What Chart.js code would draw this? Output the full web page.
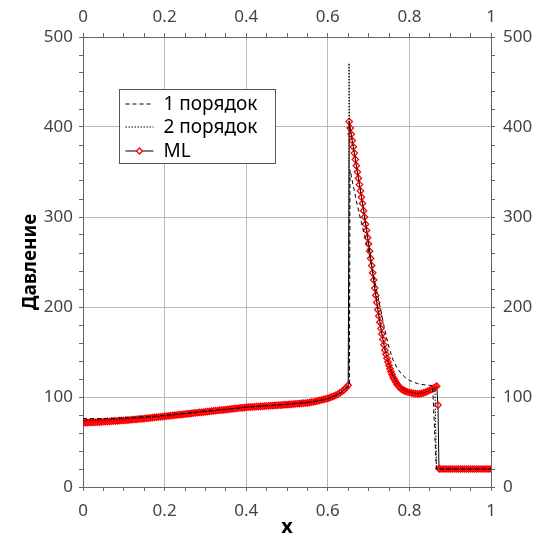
<!DOCTYPE html>
<html>
<head>
<meta charset="utf-8">
<script src="https://cdn.jsdelivr.net/npm/chart.js@4.4.1/dist/chart.umd.min.js"></script>
<style>
  html, body { margin: 0; padding: 0; background: #fff; }
  #chart { display: block; }
</style>
</head>
<body>
<canvas id="chart" width="550" height="539"></canvas>
<script>
// ML: ось x и давление
const mlX = [
  0, 0.005, 0.01, 0.015, 0.02, 0.025, 0.03, 0.035, 0.04, 0.045,
  0.05, 0.055, 0.06, 0.065, 0.07, 0.075, 0.08, 0.085, 0.09, 0.095,
  0.10, 0.105, 0.11, 0.115, 0.12, 0.125, 0.13, 0.135, 0.14, 0.145,
  0.15, 0.155, 0.16, 0.165, 0.17, 0.175, 0.18, 0.185, 0.19, 0.195,
  0.20, 0.205, 0.21, 0.215, 0.22, 0.225, 0.23, 0.235, 0.24, 0.245,
  0.25, 0.255, 0.26, 0.265, 0.27, 0.275, 0.28, 0.285, 0.29, 0.295,
  0.30, 0.305, 0.31, 0.315, 0.32, 0.325, 0.33, 0.335, 0.34, 0.345,
  0.35, 0.355, 0.36, 0.365, 0.37, 0.375, 0.38, 0.385, 0.39, 0.395,
  0.40, 0.405, 0.41, 0.415, 0.42, 0.425, 0.43, 0.435, 0.44, 0.445,
  0.45, 0.455, 0.46, 0.465, 0.47, 0.475, 0.48, 0.485, 0.49, 0.495,
  0.50, 0.505, 0.51, 0.515, 0.52, 0.525, 0.53, 0.535, 0.54, 0.545,
  0.55, 0.555, 0.56, 0.565, 0.57, 0.575, 0.58, 0.585, 0.59, 0.595,
  0.60, 0.605, 0.61, 0.615, 0.62, 0.625, 0.63, 0.635, 0.64, 0.645,
  0.65,
  0.6525, 0.655, 0.6575, 0.66, 0.6625, 0.665, 0.6675, 0.67, 0.6725, 0.675,
  0.6775, 0.68, 0.6825, 0.685, 0.6875, 0.69, 0.6925, 0.695, 0.6975, 0.70,
  0.7025, 0.705, 0.7075, 0.71, 0.7125, 0.715, 0.7175, 0.72, 0.7225, 0.725,
  0.7275, 0.73, 0.7325, 0.735, 0.7375, 0.74, 0.7425, 0.745, 0.7475, 0.75,
  0.7525, 0.755, 0.7575, 0.76, 0.7625, 0.765, 0.7675, 0.77, 0.7725, 0.775,
  0.7775, 0.78, 0.7825, 0.785, 0.7875, 0.79, 0.795, 0.80, 0.805, 0.81,
  0.815, 0.82, 0.825, 0.83, 0.835, 0.84, 0.845, 0.85, 0.855, 0.86,
  0.8635, 0.867, 0.870, 0.8725,
  0.875, 0.88, 0.885, 0.89, 0.895, 0.90, 0.905, 0.91, 0.915, 0.92,
  0.925, 0.93, 0.935, 0.94, 0.945, 0.95, 0.955, 0.96, 0.965, 0.97,
  0.975, 0.98, 0.985, 0.99, 0.995, 1.0
];
const mlP = [
  71.5, 71.5, 71.6, 71.7, 71.8, 71.9, 72.0, 72.1, 72.2, 72.4,
  72.5, 72.7, 72.8, 73.0, 73.1, 73.3, 73.4, 73.6, 73.7, 73.9,
  74.0, 74.2, 74.4, 74.6, 74.8, 75.0, 75.2, 75.4, 75.6, 75.8,
  76.0, 76.3, 76.5, 76.8, 77.0, 77.3, 77.5, 77.8, 78.0, 78.3,
  78.5, 78.8, 79.0, 79.3, 79.5, 79.8, 80.0, 80.3, 80.5, 80.8,
  81.0, 81.3, 81.5, 81.8, 82.0, 82.3, 82.5, 82.8, 83.0, 83.3,
  83.5, 83.8, 84.0, 84.3, 84.5, 84.8, 85.0, 85.3, 85.5, 85.8,
  86.0, 86.3, 86.5, 86.8, 87.0, 87.3, 87.5, 87.8, 88.0, 88.3,
  88.5, 88.7, 88.8, 89.0, 89.1, 89.3, 89.4, 89.6, 89.7, 89.9,
  90.0, 90.2, 90.3, 90.5, 90.6, 90.8, 90.9, 91.1, 91.2, 91.4,
  91.5, 91.7, 91.9, 92.1, 92.3, 92.5, 92.7, 92.9, 93.1, 93.3,
  93.5, 93.8, 94.2, 94.6, 95.0, 95.6, 96.2, 96.7, 97.3, 97.9,
  98.5, 99.3, 100.2, 101.1, 102.0, 103.2, 104.5, 106.2, 108.0, 110.4,
  113,
  406, 399, 392, 385, 378, 371, 364, 357, 350, 343,
  336, 329, 322, 315, 307, 300, 292, 285, 277, 270,
  262, 254, 246, 238, 230, 221, 213, 205, 197, 190,
  183, 176, 170, 164, 158, 152, 147.5, 143, 139, 135,
  131.5, 128, 125, 122, 120, 118, 116, 114, 112.7, 111.5,
  110.2, 109, 108.2, 107.5, 107, 106.5, 105.7, 105, 104.5, 104,
  103.7, 103.5, 103.6, 104, 104.6, 105.5, 106.5, 107.5, 108.7, 110,
  111, 112, 91, 20.5,
  20, 20, 20, 20, 20, 20, 20, 20, 20, 20,
  20, 20, 20, 20, 20, 20, 20, 20, 20, 20,
  20, 20, 20, 20, 20, 20
];

// 1 порядок
const o1X = [
  0, 0.02, 0.04, 0.06, 0.08, 0.10, 0.12, 0.14, 0.16, 0.18,
  0.20, 0.25, 0.30, 0.35, 0.40, 0.45, 0.50, 0.55, 0.58, 0.60,
  0.62, 0.63, 0.64, 0.65, 0.653, 0.6545, 0.655, 0.66, 0.67, 0.68,
  0.69, 0.70, 0.71, 0.72, 0.73, 0.74, 0.75, 0.76, 0.77, 0.78,
  0.79, 0.80, 0.81, 0.82, 0.83, 0.84, 0.85, 0.857, 0.866, 1.0
];
const o1P = [
  76, 76, 76, 76.2, 76.5, 76.8, 77.2, 77.7, 78.3, 79,
  79.8, 82, 84.3, 86.5, 88.7, 90.5, 92, 94, 96, 98,
  101.5, 104, 107.5, 111.5, 112.5, 350, 352, 340, 318, 298,
  280, 262, 240, 218, 196, 174, 155, 141, 132, 126,
  121.5, 118.5, 116.5, 115, 114, 113.3, 113, 112.5, 20, 20
];

// 2 порядок
const o2X = [
  0, 0.05, 0.10, 0.15, 0.20, 0.25, 0.30, 0.35, 0.40, 0.45,
  0.50, 0.55, 0.58, 0.60, 0.62, 0.63, 0.64, 0.65, 0.6515, 0.652,
  0.6535, 0.655, 0.66, 0.67, 0.68, 0.69, 0.70, 0.71, 0.72, 0.73,
  0.74, 0.75, 0.76, 0.77, 0.78, 0.79, 0.80, 0.81, 0.82, 0.83,
  0.84, 0.85, 0.86, 0.8625, 0.8665, 0.87, 1.0
];
const o2P = [
  74, 74.5, 75.5, 77, 79, 81.5, 84, 86.3, 88.6, 90.3,
  91.8, 93.8, 96, 98.3, 102, 104.5, 108, 112.5, 113, 471,
  400, 396, 384, 357, 330, 302, 272, 240, 207, 178,
  154, 137, 124, 115.5, 110.5, 107.5, 105.5, 104.5, 104, 104.3,
  105.3, 107, 109.5, 110, 21, 20, 20
];

const seriesNames = ['1 порядок', '2 порядок', 'ML'];
const xTitle = 'x';
const yTitle = 'Давление';

function pairs(xs, ys) {
  return xs.map((x, i) => ({ x: x, y: ys[i] }));
}

const FONT = "'Noto Sans', 'DejaVu Sans', sans-serif";
const tickFont = { family: FONT, size: 17 };

function isMajorX(v) { return Math.abs(v * 5 - Math.round(v * 5)) < 1e-6; }
function isMajorY(v) { return Math.abs(v / 100 - Math.round(v / 100)) < 1e-6; }

function xAxis(position, size, onArea, pad) {
  return {
    type: 'linear',
    position: position,
    min: 0,
    max: 1,
    ticks: {
      stepSize: 0.05,
      autoSkip: false,
      maxRotation: 0,
      padding: pad,
      color: '#444',
      font: tickFont,
      callback: v => isMajorX(v) ? String(Math.round(v * 10) / 10) : ''
    },
    grid: {
      drawOnChartArea: onArea,
      color: c => (c.tick && isMajorX(c.tick.value)) ? '#b9b9b9' : 'rgba(0,0,0,0)',
      tickColor: '#666',
      tickLength: 4,
      lineWidth: 1
    },
    border: { display: true, color: '#666', width: 1 },
    afterFit: s => { s.height = size; }
  };
}

function yAxis(position, size, onArea, pad) {
  return {
    type: 'linear',
    position: position,
    min: 0,
    max: 500,
    ticks: {
      stepSize: 20,
      autoSkip: false,
      padding: pad,
      color: '#444',
      font: tickFont,
      callback: v => isMajorY(v) ? String(v) : ''
    },
    grid: {
      drawOnChartArea: onArea,
      color: c => (c.tick && isMajorY(c.tick.value)) ? '#b9b9b9' : 'rgba(0,0,0,0)',
      tickColor: '#666',
      tickLength: 4,
      lineWidth: 1
    },
    border: { display: true, color: '#666', width: 1 },
    afterFit: s => { s.width = size; }
  };
}

const scaleX = xAxis('bottom', 52, true, 10);
scaleX.title = { display: true, text: xTitle, color: '#000', font: { family: FONT, size: 20, weight: 'bold' }, padding: { top: 0, bottom: 0 } };
const scaleY = yAxis('left', 83, true, 6);
scaleY.title = { display: true, text: yTitle, color: '#000', font: { family: FONT, size: 19, weight: 'bold' }, padding: { top: 19, bottom: 0 } };

// легенда внутри поля графика
const legendBox = {
  id: 'legendBox',
  afterDraw(chart) {
    const ctx = chart.ctx;
    const area = chart.chartArea;
    const bx = area.left + 36.5, by = area.top + 52.5, bw = 156, bh = 74;
    ctx.save();
    ctx.fillStyle = '#fff';
    ctx.fillRect(bx, by, bw, bh);
    ctx.strokeStyle = '#555';
    ctx.lineWidth = 1;
    ctx.strokeRect(bx, by, bw, bh);
    const rows = [by + 14, by + 37, by + 61];
    const dashes = [[4, 3], [1.5, 1.5], []];
    chart.data.datasets.forEach((ds, i) => {
      const y = rows[i];
      ctx.strokeStyle = '#000';
      ctx.lineWidth = 1;
      ctx.setLineDash(dashes[i]);
      ctx.beginPath();
      ctx.moveTo(bx + 6, y + 0.5);
      ctx.lineTo(bx + 34, y + 0.5);
      ctx.stroke();
      ctx.setLineDash([]);
      if (ds.pointRadius > 0) {
        ctx.strokeStyle = ds.pointBorderColor;
        ctx.lineWidth = 1.3;
        ctx.beginPath();
        ctx.moveTo(bx + 20, y - 2.5);
        ctx.lineTo(bx + 23, y + 0.5);
        ctx.lineTo(bx + 20, y + 3.5);
        ctx.lineTo(bx + 17, y + 0.5);
        ctx.closePath();
        ctx.fillStyle = '#fff';
        ctx.fill();
        ctx.stroke();
      }
      ctx.fillStyle = '#000';
      ctx.font = '19px ' + FONT;
      ctx.textBaseline = 'middle';
      ctx.textAlign = 'left';
      ctx.fillText(ds.label, bx + 44, y + 1);
    });
    ctx.restore();
  }
};

new Chart(document.getElementById('chart'), {
  type: 'line',
  data: {
    datasets: [
      {
        label: seriesNames[0],
        data: pairs(o1X, o1P),
        borderColor: '#000',
        borderWidth: 1,
        borderDash: [4, 3],
        pointRadius: 0,
        tension: 0
      },
      {
        label: seriesNames[1],
        data: pairs(o2X, o2P),
        borderColor: '#000',
        borderWidth: 1,
        borderDash: [1.5, 1.5],
        pointRadius: 0,
        tension: 0
      },
      {
        label: seriesNames[2],
        data: pairs(mlX, mlP),
        borderColor: '#000',
        borderWidth: 1,
        pointStyle: 'rectRot',
        pointRadius: 3.2,
        pointBorderWidth: 1.3,
        pointBorderColor: '#ff0000',
        pointBackgroundColor: 'rgba(255,255,255,0)',
        tension: 0
      }
    ]
  },
  options: {
    responsive: false,
    devicePixelRatio: 1,
    animation: false,
    layout: { padding: 0 },
    plugins: {
      legend: { display: false },
      tooltip: { enabled: false }
    },
    scales: {
      x: scaleX,
      x2: xAxis('top', 37, false, 6),
      y: scaleY,
      y2: yAxis('right', 59, false, 8)
    }
  },
  plugins: [legendBox]
});
</script>
</body>
</html>
